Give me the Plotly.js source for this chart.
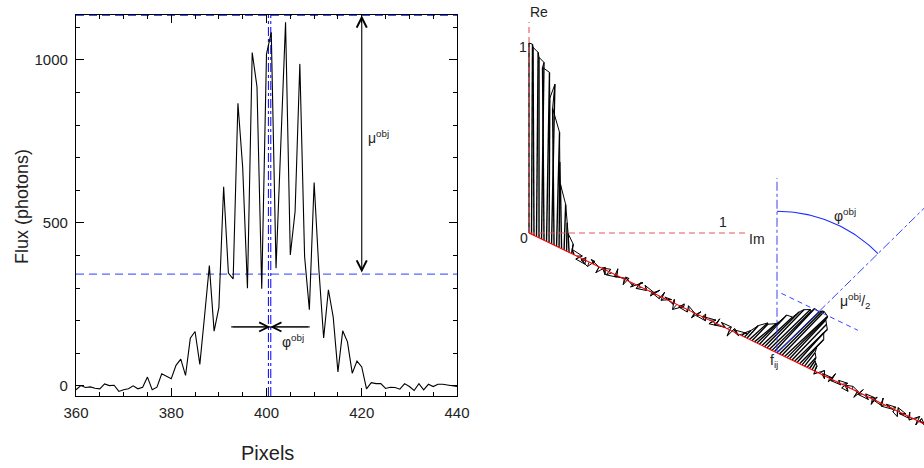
<!DOCTYPE html>
<html><head><meta charset="utf-8">
<script src="https://cdn.plot.ly/plotly-3.0.1.min.js"></script>
<style>html,body{margin:0;padding:0;background:#fff}#chart{width:924px;height:468px}</style>
</head><body><div id="chart"></div>
<script>
// ---------------- Left panel: fringe spectrum ----------------
const pixels = [360,361,362,363,364,365,366,367,368,369,370,371,372,373,374,375,376,377,378,379,
  380,381,382,383,384,385,386,387,388,389,390,391,392,393,394,395,396,397,398,399,
  400,401,402,403,404,405,406,407,408,409,410,411,412,413,414,415,416,417,418,419,
  420,421,422,423,424,425,426,427,428,429,430,431,432,433,434,435,436,437,438,439,440];
const flux = [-12,1,-5,-3,-7,-9,6,1,2,-17,-12,-9,0,-9,-4,27,-12,-4,37,29,
  22,63,82,32,146,167,66,215,369,168,240,611,346,328,867,670,300,1023,918,298,
  1018,1085,361,740,1116,402,535,988,397,234,624,357,147,295,212,43,169,135,39,76,
  58,-9,10,7,7,-8,-4,-5,-10,7,-2,-14,7,-12,5,-2,5,5,3,1,-2];
const meanLevel = 343;        // blue dashed level
const peakLevel = 1137;       // upper blue dashed level
const centreLines = [400.4, 400.9];
const muArrowX = 420;
const phiLevel = 181;
const phiSpan = [392.55, 409.1];
const phiCentre = 400.8;
const xRange = [360, 440], yRange = [-31, 1138];

// ---------------- Right panel: complex-plane diagram ----------------
// amplitude (Re=1 unit) and phase (deg from Re axis towards Im) per frequency sample
const specAmp = [1.00,1.00,0.99,0.97,0.95,0.93,0.91,0.89,0.76,0.84,0.72,0.60,0.45,0.34,0.24,0.15,0.10,0.05,0.03,
  0.03,0.02,0.035,0.015,0.03,0.025,0.02,0.03,0.015,0.035,
  0.02,0.03,0.025,0.015,0.03,0.02,0.035,0.025,0.02,0.03,
  0.015,0.03,0.02,0.025,0.035,0.02,0.03,0.015,0.025,0.03,
  0.02,0.035,0.025,0.015,0.03,0.02,0.025,0.03,0.015,0.02,
  0.035,0.025,0.02,0.03,0.015,0.025,0.02,0.03,0.025,0.015,
  0.03,0.02,0.025,0.035,0.02,0.015,0.03,0.025,0.02,0.03,
  0.025,0.035,0.02,0.03,0.025,0.04,
  0.02,0.05,0.09,0.13,0.12,0.15,0.16,0.21,0.22,0.26,
  0.28,0.30,0.29,0.31,0.31,0.32,0.32,0.31,0.30,0.28,
  0.26,0.24,0.21,0.18,0.12,0.09,0.07,0.05,0.04,0.03,
  0.02,0.03,0.025,0.015,0.03,0.02,0.035,0.02,0.025,0.015,
  0.03,0.02,0.025,0.03,0.015,0.02,0.035,0.025,0.02,0.03,
  0.015,0.025,0.03,0.02,0.025,0.015,0.03,0.02,0.035,0.025,
  0.02,0.015,0.03,0.025,0.02,0.03,0.015,0.025,0.02,0.03,
  0.025,0.02,0.015,0.03,0.02,0.025,0.02];
const specPhaseDeg = [0,0.3,-0.3,0.5,0,0.8,-0.5,1,0.3,1.2,-0.6,1.5,0.5,-1,2,1,-3,10,-20,
  90,-120,150,40,-80,200,60,-30,120,-150,
  80,170,-60,30,-110,140,10,-90,100,-170,
  50,-40,160,-130,70,20,-100,130,-20,110,
  -160,60,-70,180,30,-120,90,-50,150,0,
  -140,100,40,-80,170,-10,120,-150,60,-100,
  140,20,-60,90,-130,160,30,-90,110,-30,
  70,-160,50,130,-40,80,
  40,45,42,48,44,50,46,43,47,45,
  44,46,45,43,46,45,44,47,45,43,
  44,46,42,45,40,38,42,35,30,25,
  -120,60,150,-40,100,-160,30,-90,130,-20,
  80,-130,170,-60,20,110,-150,50,-100,140,
  -30,90,-170,40,-70,160,10,-110,120,-50,
  70,-140,180,-20,100,-80,150,0,-120,60,
  -160,30,130,-60,90,-30,110];
const fijIndex = 99;
const phiObjDeg = 45.5;
const muHalf = 0.31;

// ---------------- geometry (layout only) ----------------
const W = 924, H = 468;
const PXU = 190;                 // px per unit on the diagram
const O = [529, 233];            // origin pixel of the diagram
const fStep = [2.505 / PXU, -1.21 / PXU];
const X2 = [(470 - O[0]) / PXU, (W - O[0]) / PXU];
const Y2 = [-(H - O[1]) / PXU, O[1] / PXU];
const ux = px => (px - O[0]) / PXU, uy = py => (O[1] - py) / PXU;
const denseRanges = [[0, 18], [85, 114]];

const traces = [];
// --- left panel traces
traces.push({x: xRange, y: [peakLevel, peakLevel], mode: 'lines', line: {color: '#3b4dff', width: 1.3, dash: '8px,5px'}, xaxis: 'x', yaxis: 'y', hoverinfo: 'skip'});
traces.push({x: xRange, y: [meanLevel, meanLevel], mode: 'lines', line: {color: '#5566ff', width: 1.3, dash: '8px,5px'}, xaxis: 'x', yaxis: 'y', hoverinfo: 'skip'});
centreLines.forEach(c => traces.push({x: [c, c], y: yRange, mode: 'lines', line: {color: '#0000ee', width: 1, dash: 'dashdot'}, xaxis: 'x', yaxis: 'y', hoverinfo: 'skip'}));
traces.push({x: pixels, y: flux, mode: 'lines', line: {color: '#000', width: 1.1}, xaxis: 'x', yaxis: 'y'});
traces.push({x: phiSpan, y: [phiLevel, phiLevel], mode: 'lines', line: {color: '#000', width: 1}, xaxis: 'x', yaxis: 'y', hoverinfo: 'skip'});

// --- right panel traces
const hx = [], hy = [], dx = [], dy = [], tx = [], ty = [];
for (let k = 0; k < specAmp.length; k++) {
  const b = [k * fStep[0], k * fStep[1]];
  const ph = specPhaseDeg[k] * Math.PI / 180;
  const t = [b[0] + specAmp[k] * Math.sin(ph), b[1] + specAmp[k] * Math.cos(ph)];
  const dense = denseRanges.some(r => k >= r[0] && k <= r[1]);
  if (dense) { dx.push(b[0], t[0], null); dy.push(b[1], t[1], null); }
  else { hx.push(b[0], t[0], null); hy.push(b[1], t[1], null); }
  tx.push(t[0]); ty.push(t[1]);
}
traces.push({x: hx, y: hy, mode: 'lines', line: {color: '#000', width: 0.9}, xaxis: 'x2', yaxis: 'y2', hoverinfo: 'skip'});
traces.push({x: dx, y: dy, mode: 'lines', line: {color: '#000', width: 1.4}, xaxis: 'x2', yaxis: 'y2', hoverinfo: 'skip'});
traces.push({x: tx, y: ty, mode: 'lines', line: {color: '#000', width: 1}, xaxis: 'x2', yaxis: 'y2', hoverinfo: 'skip'});
// red axes
traces.push({x: [0, 0], y: [0, uy(22)], mode: 'lines', line: {color: '#ee5555', width: 1.1, dash: '6px,4px'}, xaxis: 'x2', yaxis: 'y2', hoverinfo: 'skip'});
traces.push({x: [0, ux(748)], y: [0, 0], mode: 'lines', line: {color: '#ee5555', width: 1.1, dash: '6px,4px'}, xaxis: 'x2', yaxis: 'y2', hoverinfo: 'skip'});
const kEnd = 180;
traces.push({x: [0, kEnd * fStep[0]], y: [0, kEnd * fStep[1]], mode: 'lines', line: {color: '#ff0000', width: 1.1}, xaxis: 'x2', yaxis: 'y2', hoverinfo: 'skip'});
// blue construction at f_ij
const F = [fijIndex * fStep[0], fijIndex * fStep[1]];
const phi = phiObjDeg * Math.PI / 180;
const dir = [Math.sin(phi), Math.cos(phi)];
const M = [F[0] + muHalf * dir[0], F[1] + muHalf * dir[1]];
traces.push({x: [F[0], F[0]], y: [F[1], F[1] + 0.92], mode: 'lines', line: {color: '#3344ff', width: 1, dash: 'dashdot'}, xaxis: 'x2', yaxis: 'y2', hoverinfo: 'skip'});
traces.push({x: [F[0], M[0]], y: [F[1], M[1]], mode: 'lines', line: {color: '#1a2cff', width: 1}, xaxis: 'x2', yaxis: 'y2', hoverinfo: 'skip'});
traces.push({x: [M[0], F[0] + 1.3 * dir[0]], y: [M[1], F[1] + 1.3 * dir[1]], mode: 'lines', line: {color: '#3344ff', width: 1, dash: 'dashdot'}, xaxis: 'x2', yaxis: 'y2', hoverinfo: 'skip'});
const arcR = 0.745, ax = [], ay = [];
for (let i = 0; i <= 40; i++) { const a = phi * i / 40; ax.push(F[0] + arcR * Math.sin(a)); ay.push(F[1] + arcR * Math.cos(a)); }
traces.push({x: ax, y: ay, mode: 'lines', line: {color: '#1a2cff', width: 1.1}, xaxis: 'x2', yaxis: 'y2', hoverinfo: 'skip'});
traces.push({x: [M[0] - 15 * fStep[0], M[0] + 15.5 * fStep[0]], y: [M[1] - 15 * fStep[1], M[1] + 15.5 * fStep[1]], mode: 'lines', line: {color: '#3344ff', width: 1, dash: '5px,4px'}, xaxis: 'x2', yaxis: 'y2', hoverinfo: 'skip'});

const txt = '#222';
const annotations = [
  // axis titles
  {xref: 'paper', yref: 'paper', x: 267 / W, y: 1 - 453 / H, text: 'Pixels', showarrow: false, font: {size: 20, color: txt}, xanchor: 'center', yanchor: 'middle'},
  {xref: 'paper', yref: 'paper', x: 22 / W, y: 1 - 207 / H, text: 'Flux (photons)', textangle: -90, showarrow: false, font: {size: 18, color: txt}, xanchor: 'center', yanchor: 'middle'},
  // arrows in left panel
  {xref: 'x', yref: 'y', axref: 'x', ayref: 'y', x: muArrowX, y: peakLevel, ax: muArrowX, ay: meanLevel, text: '', showarrow: true, arrowside: 'end+start', arrowhead: 5, startarrowhead: 5, arrowsize: 1.8, startarrowsize: 1.8, arrowwidth: 1.1, arrowcolor: '#000', font: {size: 1}},
  {xref: 'x', yref: 'y', axref: 'x', ayref: 'y', x: phiCentre, y: phiLevel, ax: phiSpan[0], ay: phiLevel, text: '', showarrow: true, arrowhead: 5, arrowsize: 1.8, arrowwidth: 1, arrowcolor: '#000', font: {size: 1}},
  {xref: 'x', yref: 'y', axref: 'x', ayref: 'y', x: phiCentre, y: phiLevel, ax: phiSpan[1], ay: phiLevel, text: '', showarrow: true, arrowhead: 5, arrowsize: 1.8, arrowwidth: 1, arrowcolor: '#000', font: {size: 1}},
  {xref: 'x', yref: 'y', x: 420.9, y: 765, text: 'μ<sup>obj</sup>', showarrow: false, xanchor: 'left', yanchor: 'middle', font: {size: 14, color: txt}},
  {xref: 'x', yref: 'y', x: 402.8, y: 138, text: 'φ<sup>obj</sup>', showarrow: false, xanchor: 'left', yanchor: 'middle', font: {size: 14, color: txt}},
  // diagram labels
  {xref: 'x2', yref: 'y2', x: ux(539), y: uy(12), text: 'Re', showarrow: false, font: {size: 14, color: txt}},
  {xref: 'x2', yref: 'y2', x: ux(523), y: uy(47), text: '1', showarrow: false, font: {size: 14, color: txt}},
  {xref: 'x2', yref: 'y2', x: ux(524), y: uy(238), text: '0', showarrow: false, font: {size: 14, color: txt}},
  {xref: 'x2', yref: 'y2', x: ux(723), y: uy(222), text: '1', showarrow: false, font: {size: 14, color: txt}},
  {xref: 'x2', yref: 'y2', x: ux(757), y: uy(239), text: 'Im', showarrow: false, font: {size: 14, color: txt}},
  {xref: 'x2', yref: 'y2', x: ux(832), y: uy(215), text: 'φ<sup>obj</sup>', showarrow: false, xanchor: 'left', font: {size: 14, color: txt}},
  {xref: 'x2', yref: 'y2', x: ux(838), y: uy(301), text: 'μ<sup>obj</sup>/<sub>2</sub>', showarrow: false, xanchor: 'left', font: {size: 14, color: txt}},
  {xref: 'x2', yref: 'y2', x: ux(774), y: uy(361), text: 'f<sub>ij</sub>', showarrow: false, font: {size: 14, color: txt}}
];

const axCommon = {ticks: 'inside', ticklen: 8, tickwidth: 1, tickcolor: '#000', showline: true, linecolor: '#000', linewidth: 1.3,
  mirror: 'allticks', showgrid: false, zeroline: false, tickfont: {size: 15, color: txt}};
const layout = {
  width: W, height: H, margin: {l: 0, r: 0, t: 0, b: 0}, paper_bgcolor: '#fff', plot_bgcolor: '#fff', showlegend: false,
  font: {family: 'Liberation Sans, Arial, sans-serif', color: txt, size: 14},
  xaxis: Object.assign({}, axCommon, {domain: [76 / W, 457 / W], range: xRange, tick0: 360, dtick: 20, anchor: 'y', ticklabelstandoff: 3,
    minor: {dtick: 5, ticks: 'inside', ticklen: 4, tickcolor: '#000', showgrid: false}}),
  yaxis: Object.assign({}, axCommon, {domain: [1 - 396 / H, 1 - 15 / H], range: yRange, tick0: 0, dtick: 500, anchor: 'x', ticklabelstandoff: 4,
    minor: {dtick: 100, ticks: 'inside', ticklen: 4, tickcolor: '#000', showgrid: false}}),
  xaxis2: {domain: [470 / W, 1], range: X2, visible: false, anchor: 'y2', fixedrange: true},
  yaxis2: {domain: [0, 1], range: Y2, visible: false, anchor: 'x2', fixedrange: true},
  annotations: annotations
};
Plotly.newPlot('chart', traces, layout, {displayModeBar: false});
</script></body></html>
